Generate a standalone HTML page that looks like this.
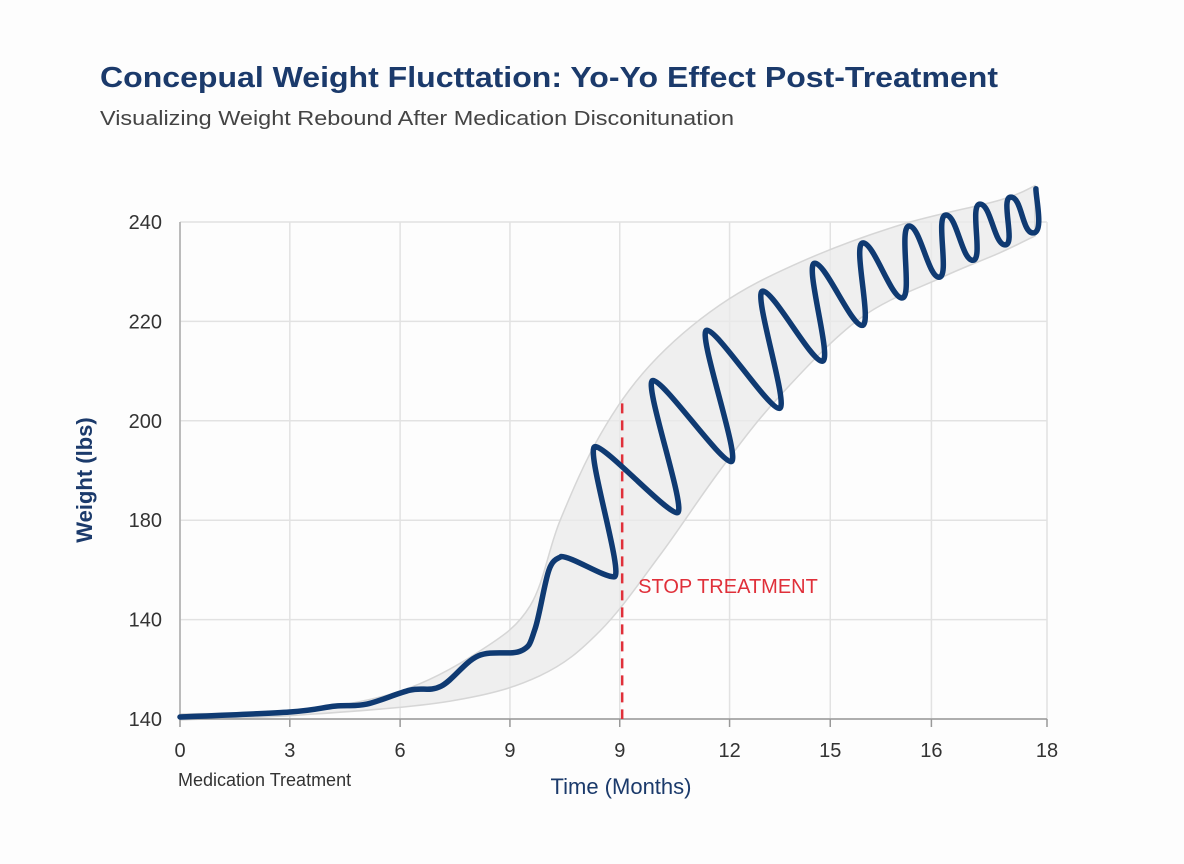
<!DOCTYPE html>
<html><head><meta charset="utf-8">
<style>
html,body{margin:0;padding:0;background:#fdfdfd;}
svg{display:block;font-family:"Liberation Sans",sans-serif;}
</style></head>
<body>
<svg id="chart" width="1184" height="864" viewBox="0 0 1184 864">
<rect width="1184" height="864" fill="#fdfdfd"/>
<text x="100" y="87" font-size="29" font-weight="bold" fill="#1b3a6b" textLength="898" lengthAdjust="spacingAndGlyphs">Concepual Weight Flucttation: Yo-Yo Effect Post-Treatment</text>
<text x="100" y="125" font-size="20" fill="#444" textLength="634" lengthAdjust="spacingAndGlyphs">Visualizing Weight Rebound After Medication Disconitunation</text>
<g id="grid"></g>
<g id="band"></g>
<g id="axes"></g>
<g id="series"></g>
<text x="92" y="480" font-size="22" font-weight="bold" fill="#1b3a6b" text-anchor="middle" transform="rotate(-90 92 480)">Weight (lbs)</text>
<text x="178" y="786" font-size="18" fill="#333">Medication Treatment</text>
<text x="621" y="794" font-size="22" fill="#1b3a6b" text-anchor="middle">Time (Months)</text>
</svg>
<script>
const xTicks=[0,2.28,4.57,6.85,9.13,11.41,13.5,15.6,18];
const xTickLabels=["0","3","6","9","9","12","15","16","18"];
const yTicks=[140,160,180,200,220,240];
const yTickLabels=["140","140","180","200","220","240"];
const earlyMonths=[0,2.28,3.22,3.88,4.77,5.42,6.19,7.08,7.37,7.66,7.91];
const earlyWeight=[140.4,141.4,142.6,143.0,145.8,146.6,152.7,153.7,158.1,170.0,172.7];
const swingMonths=[7.91,9.01,8.62,10.32,9.82,11.44,10.94,12.44,12.10,13.33,13.18,14.16,14.18,14.99,15.14,15.76,15.90,16.46,16.61,17.13,17.25,17.71,17.77];
const swingWeight=[172.7,168.6,194.8,181.5,208.1,191.8,218.2,202.5,226.1,212.0,231.7,219.2,235.8,224.7,239.2,228.9,241.4,232.3,243.6,235.4,245.0,237.8,246.7];
const bandUpperMonths=[0,2.49,4.57,6.23,7.27,7.89,8.72,9.76,11.21,12.87,14.95,17.02,17.75];
const bandUpper=[141.0,141.8,145.6,153.7,162.8,179.9,197.1,211.2,223.3,231.9,239.4,244.4,247.3];
const bandLowerMonths=[17.75,17.02,15.78,14.12,12.46,11.21,9.96,8.72,7.47,5.61,2.49,0];
const bandLower=[237.2,233.8,228.7,220.6,205.1,190.0,172.9,157.7,148.7,143.6,140.8,139.8];
const stopMonth=[9.18];
const stopTop=[203.5];

const X0=180,X1=1047,Y0=719,Y1=222;
const sx=m=>X0+(m-0)/18*(X1-X0);
const sy=v=>Y0-(v-140)/100*(Y0-Y1);
const NS="http://www.w3.org/2000/svg";
function mk(tag,attrs,parent){const e=document.createElementNS(NS,tag);for(const k in attrs)e.setAttribute(k,attrs[k]);parent.appendChild(e);return e;}
const f=v=>v.toFixed(1);
function smooth(pts){
  let d="M"+f(pts[0][0])+","+f(pts[0][1]);
  const n=pts.length;
  for(let i=0;i<n-1;i++){
    const p0=pts[Math.max(0,i-1)],p1=pts[i],p2=pts[i+1],p3=pts[Math.min(n-1,i+2)];
    const t=0.17;
    const c1=[p1[0]+(p2[0]-p0[0])*t,p1[1]+(p2[1]-p0[1])*t];
    const c2=[p2[0]-(p3[0]-p1[0])*t,p2[1]-(p3[1]-p1[1])*t];
    d+="C"+f(c1[0])+","+f(c1[1])+" "+f(c2[0])+","+f(c2[1])+" "+f(p2[0])+","+f(p2[1]);
  }
  return d;
}
const grid=document.getElementById('grid'),axes=document.getElementById('axes'),band=document.getElementById('band'),series=document.getElementById('series');
yTicks.forEach((v,i)=>{
  const l=mk('line',{x1:X0,x2:X1,y1:sy(v),y2:sy(v),stroke:'#e2e2e2','stroke-width':1.5},grid);
  
  
  const t=mk('text',{x:162,y:sy(v)+7,'font-size':20,fill:'#333','text-anchor':'end'},axes);
  t.textContent=yTickLabels[i];
  
  
});
xTicks.forEach((m,i)=>{
  const l=mk('line',{x1:sx(m),x2:sx(m),y1:Y1,y2:Y0,stroke:'#e2e2e2','stroke-width':1.5},grid);
  
  
  const tk=mk('line',{x1:sx(m),x2:sx(m),y1:Y0,y2:Y0+8,stroke:'#999','stroke-width':1.5},axes);
  
  
  const t=mk('text',{x:sx(m),y:757,'font-size':20,fill:'#333','text-anchor':'middle'},axes);
  t.textContent=xTickLabels[i];
  
  
});
const ya=mk('line',{x1:X0,x2:X0,y1:Y1,y2:Y0,stroke:'#aaa','stroke-width':1.5},axes);


const xa=mk('line',{x1:X0,x2:X1,y1:Y0,y2:Y0,stroke:'#999','stroke-width':1.5},axes);



const up=bandUpperMonths.map((m,i)=>[sx(m),sy(bandUpper[i])]);
const lo=bandLowerMonths.map((m,i)=>[sx(m),sy(bandLower[i])]);
const bd=smooth(up)+"L"+smooth(lo).slice(1)+"Z";
const bp=mk('path',{d:bd,fill:'#e9e9e9','fill-opacity':0.75,stroke:'#d6d6d6','stroke-width':1.5},band);



const sl=mk('line',{x1:sx(stopMonth[0]),x2:sx(stopMonth[0]),y1:sy(stopTop[0]),y2:Y0,stroke:'#e0303a','stroke-width':2.5,'stroke-dasharray':'10,7'},series);


const st=mk('text',{x:sx(stopMonth[0])+16,y:593,'font-size':20,fill:'#e0303a'},series);
st.textContent='STOP TREATMENT';



const early=earlyMonths.map((m,i)=>[sx(m),sy(earlyWeight[i])]);
let d=smooth(early);
const sw=swingMonths.map((m,i)=>[sx(m),sy(swingWeight[i])]);
const H=11;
for(let i=0;i<sw.length-1;i++){
  const p1=sw[i],p2=sw[i+1];
  const h2=(i===sw.length-2)?0:H;
  d+="C"+f(p1[0]+H)+","+f(p1[1])+" "+f(p2[0]-h2)+","+f(p2[1]+(h2?0:10))+" "+f(p2[0])+","+f(p2[1]);
}
const lp=mk('path',{d:d,fill:'none',stroke:'#0f3a72','stroke-width':5.5,'stroke-linecap':'round','stroke-linejoin':'round'},series);


</script>
</body></html>
